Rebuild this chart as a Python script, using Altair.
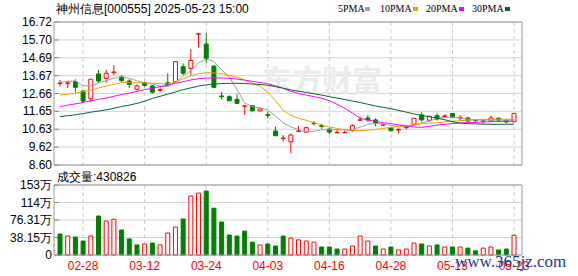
import altair as alt
import pandas as pd

# ---------------- data ----------------
dates = ["02-25", "02-26", "02-27", "02-28", "03-03", "03-04", "03-05", "03-06", "03-07", "03-10",
         "03-11", "03-12", "03-13", "03-14", "03-17", "03-18", "03-19", "03-20", "03-21", "03-24",
         "03-25", "03-26", "03-27", "03-28", "03-31", "04-01", "04-02", "04-03", "04-07", "04-08",
         "04-09", "04-10", "04-11", "04-14", "04-15", "04-16", "04-17", "04-18", "04-21", "04-22",
         "04-23", "04-24", "04-25", "04-28", "04-29", "04-30", "05-06", "05-07", "05-08", "05-09",
         "05-12", "05-13", "05-14", "05-15", "05-16", "05-19", "05-20", "05-21", "05-22", "05-23"]

opens = [13.22, 13.22, 13.33, 12.80, 12.35, 13.77, 13.52, 13.84, 13.58, 13.37,
         12.90, 13.27, 13.09, 12.84, 13.27, 13.33, 14.18, 14.09, 16.02, 15.47,
         14.22, 12.52, 12.48, 12.33, 11.93, 11.97, 11.67, 11.46, 10.53, 10.10,
         9.92, 10.51, 10.46, 10.98, 10.83, 10.64, 10.43, 10.43, 10.55, 11.14,
         11.27, 11.16, 10.86, 10.72, 10.59, 10.72, 10.91, 11.44, 11.14, 11.40,
         11.36, 11.52, 11.27, 11.27, 11.14, 11.10, 11.10, 11.26, 11.15, 11.06]
highs = [13.43, 13.39, 13.47, 12.86, 13.47, 14.00, 14.00, 14.28, 13.71, 13.47,
         13.18, 13.33, 13.14, 13.01, 13.81, 14.47, 14.37, 15.17, 16.05, 16.11,
         14.22, 12.76, 12.57, 12.63, 11.96, 12.00, 11.88, 11.63, 10.77, 10.30,
         10.40, 10.81, 10.77, 11.10, 10.93, 10.72, 10.63, 10.60, 10.91, 11.35,
         11.44, 11.25, 10.95, 10.77, 10.68, 10.80, 11.25, 11.59, 11.38, 11.54,
         11.48, 11.54, 11.44, 11.33, 11.18, 11.20, 11.40, 11.30, 11.20, 11.55]
lows = [13.05, 12.96, 12.73, 12.14, 12.16, 13.27, 13.27, 13.71, 13.27, 12.96,
        12.82, 13.05, 12.67, 12.73, 13.07, 13.30, 13.71, 13.71, 15.28, 14.37,
        12.95, 12.33, 12.23, 12.06, 11.44, 11.63, 11.67, 11.25, 10.25, 9.92,
        9.26, 10.50, 10.46, 10.83, 10.66, 10.36, 10.43, 10.43, 10.50, 11.12,
        11.06, 10.81, 10.80, 10.50, 10.40, 10.62, 10.91, 11.06, 11.06, 11.12,
        11.27, 11.27, 11.10, 10.97, 10.98, 10.94, 11.06, 11.08, 10.96, 11.06]
closes = [13.26, 13.26, 13.01, 12.23, 13.47, 13.37, 13.81, 13.88, 13.39, 13.18,
          13.09, 13.12, 12.73, 12.88, 13.14, 14.47, 13.81, 14.54, 16.05, 14.66,
          13.01, 12.48, 12.25, 12.10, 11.96, 11.68, 11.78, 11.42, 10.26, 10.13,
          10.30, 10.53, 10.72, 10.95, 10.79, 10.47, 10.45, 10.45, 10.83, 11.16,
          11.16, 10.97, 10.88, 10.55, 10.62, 10.75, 11.25, 11.16, 11.37, 11.21,
          11.39, 11.29, 11.30, 11.10, 11.12, 11.12, 11.27, 11.15, 11.04, 11.53]

# volume in 万 shares
volumes = [45.8, 41.4, 39.2, 30.5, 41.4, 85.0, 74.0, 78.0, 54.5, 35.0,
           22.0, 24.0, 26.0, 22.0, 48.0, 61.0, 78.5, 128.6, 135.0, 139.5,
           102.0, 72.0, 43.6, 41.4, 52.0, 28.0, 22.0, 24.0, 19.6, 41.4,
           37.0, 33.0, 30.5, 28.0, 17.5, 17.5, 13.0, 13.0, 19.6, 41.4,
           30.5, 19.6, 13.0, 17.5, 11.0, 13.0, 26.0, 24.0, 19.6, 22.0,
           17.5, 17.5, 17.5, 15.0, 9.0, 15.0, 17.5, 11.0, 13.0, 43.08]
vol_up = [0, 1, 0, 0, 1, 0, 1, 1, 0, 0,
          0, 1, 0, 1, 1, 1, 0, 1, 1, 0,
          0, 0, 0, 0, 0, 0, 1, 0, 0, 0,
          1, 1, 1, 1, 0, 0, 0, 1, 1, 1,
          1, 0, 1, 0, 1, 1, 1, 0, 1, 0,
          1, 0, 1, 0, 0, 1, 1, 0, 0, 1]

ma5 = [13.30, 13.34, 13.38, 13.10, 13.10, 13.25, 13.40, 13.52, 13.64, 13.52,
       13.38, 13.28, 13.20, 13.08, 13.05, 13.30, 13.65, 13.95, 14.40, 14.62,
       14.47, 14.00, 13.60, 12.88, 12.12, 11.92, 11.84, 11.72, 11.38, 11.00,
       10.77, 10.60, 10.47, 10.52, 10.60, 10.64, 10.60, 10.58, 10.62, 10.75,
       10.90, 10.96, 10.93, 10.85, 10.80, 10.78, 10.85, 11.00, 11.10, 11.24,
       11.30, 11.32, 11.28, 11.20, 11.16, 11.15, 11.15, 11.16, 11.14, 11.16]
ma10 = [12.57, 12.62, 12.68, 12.76, 12.85, 12.98, 13.08, 13.18, 13.28, 13.28,
        13.27, 13.26, 13.24, 13.22, 13.20, 13.30, 13.50, 13.66, 13.78, 13.84,
        13.83, 13.78, 13.70, 13.58, 13.42, 13.25, 13.08, 12.75, 12.25, 11.70,
        11.42, 11.25, 11.14, 11.00, 10.88, 10.76, 10.68, 10.60, 10.57, 10.56,
        10.58, 10.62, 10.68, 10.74, 10.80, 10.84, 10.88, 10.94, 10.97, 11.00,
        11.05, 11.08, 11.12, 11.14, 11.18, 11.19, 11.20, 11.20, 11.20, 11.20]
ma20 = [11.91, 12.00, 12.07, 12.15, 12.25, 12.33, 12.40, 12.50, 12.60, 12.68,
        12.78, 12.88, 12.96, 13.05, 13.15, 13.24, 13.33, 13.43, 13.50, 13.54,
        13.54, 13.54, 13.52, 13.48, 13.42, 13.35, 13.28, 13.22, 13.10, 12.96,
        12.78, 12.65, 12.57, 12.48, 12.39, 12.25, 12.05, 11.82, 11.55, 11.25,
        11.15, 11.08, 11.00, 10.95, 10.88, 10.82, 10.76, 10.74, 10.80, 10.86,
        10.91, 10.95, 10.98, 11.00, 11.02, 11.04, 11.06, 11.07, 11.08, 11.09]
ma30 = [11.35, 11.40, 11.45, 11.52, 11.60, 11.66, 11.73, 11.82, 11.92, 12.00,
        12.10, 12.22, 12.38, 12.50, 12.62, 12.75, 12.88, 12.98, 13.08, 13.15,
        13.20, 13.22, 13.24, 13.24, 13.22, 13.20, 13.17, 13.13, 13.05, 12.96,
        12.86, 12.79, 12.72, 12.64, 12.57, 12.48, 12.40, 12.32, 12.23, 12.15,
        12.05, 11.95, 11.87, 11.80, 11.70, 11.60, 11.50, 11.42, 11.34, 11.26,
        11.17, 11.06, 10.98, 10.95, 10.93, 10.92, 10.91, 10.91, 10.91, 10.92]

price_ticks = [8.60, 9.62, 10.63, 11.65, 12.66, 13.67, 14.69, 15.70, 16.72]
vol_ticks = [0, 38.155, 76.31, 114.465, 152.62]
vol_tick_labels = ["0", "38.15万", "76.31万", "114万", "153万"]
date_ticks = ["02-28", "03-12", "03-24", "04-03", "04-16", "04-28", "05-13", "05-23"]
ma_names = ["5PMA", "10PMA", "20PMA", "30PMA"]
ma_colors = ["#a0a0a0", "#f0a000", "#ff00ff", "#006633"]
title_text = "神州信息[000555] 2025-05-23 15:00"
vol_title = "成交量:430826"
watermark = "东方财富"
site_mark = "www.365jz.com"

# ---------------- layout ----------------
W, H = 468, 233
PH = 143            # price panel bottom
VT, VB = 163, 233   # volume panel top / bottom
RED, GREEN = "#ff0000", "#008000"
FONT = "Liberation Sans"
GRID = "#d4d4d4"

df = pd.DataFrame({"date": dates, "open": opens, "high": highs, "low": lows,
                   "close": closes, "vol": volumes})
df["dir"] = ["up" if c >= o else "down" for o, c in zip(opens, closes)]
df["vdir"] = ["up" if u else "down" for u in vol_up]

ma_df = pd.concat([
    pd.DataFrame({"date": dates, "value": vals, "series": name})
    for name, vals in zip(ma_names, [ma5, ma10, ma20, ma30])
])

one = pd.DataFrame({"a": [0]})
ptick_df = pd.DataFrame({"v": price_ticks, "label": [f"{v:.2f}" for v in price_ticks]})
vtick_df = pd.DataFrame({"v": vol_ticks, "label": vol_tick_labels})
dtick_df = pd.DataFrame({"date": date_ticks})

xscale = alt.Scale(type="point", domain=dates, padding=0.91, align=0.43)
pscale = alt.Scale(domain=[price_ticks[0], price_ticks[-1]], range=[PH, 0], zero=False, nice=False)
vscale = alt.Scale(domain=[vol_ticks[0], vol_ticks[-1]], range=[VB, VT], zero=False, nice=False)
stroke_scale = alt.Scale(domain=["up", "down"], range=[RED, GREEN])
fill_scale = alt.Scale(domain=["up", "down"], range=["#ffffff", GREEN])

Xn = alt.X("date:O", scale=xscale, axis=None)

# ---------- price panel ----------
p_grid = alt.Chart(ptick_df).mark_rule(color=GRID).encode(
    y=alt.Y("v:Q", scale=pscale, axis=None), x=alt.value(0), x2=alt.value(W))
p_ticks = alt.Chart(ptick_df).mark_rule(color="#888888").encode(
    y=alt.Y("v:Q", scale=pscale, axis=None), x=alt.value(0), x2=alt.value(5))
p_labels = alt.Chart(ptick_df).mark_text(align="right", baseline="middle", fontSize=12,
                                         font=FONT, color="#000000").encode(
    y=alt.Y("v:Q", scale=pscale, axis=None), x=alt.value(-2), text="label:N")
p_vgrid = alt.Chart(dtick_df).mark_rule(color="#c8c8c8", strokeDash=[4, 3]).encode(
    x=Xn, y=alt.value(0), y2=alt.value(PH))
p_water = alt.Chart(one).mark_text(text=watermark, fontSize=30, fontWeight="bold",
                                   font="Noto Sans CJK SC", color="#ebebeb").encode(
    x=alt.value(268), y=alt.value(60))
wicks = alt.Chart(df).mark_rule(strokeWidth=1).encode(
    x=Xn, y=alt.Y("low:Q", scale=pscale, axis=None), y2="high:Q",
    stroke=alt.Stroke("dir:N", scale=stroke_scale, legend=None))
bodies = alt.Chart(df).mark_bar(size=4, strokeWidth=1).encode(
    x=Xn, y=alt.Y("open:Q", scale=pscale, axis=None), y2="close:Q",
    fill=alt.Fill("dir:N", scale=fill_scale, legend=None),
    stroke=alt.Stroke("dir:N", scale=stroke_scale, legend=None))
ma_lines = alt.Chart(ma_df).mark_line(strokeWidth=1).encode(
    x=Xn, y=alt.Y("value:Q", scale=pscale, axis=None),
    color=alt.Color("series:N", scale=alt.Scale(domain=ma_names, range=ma_colors), legend=None),
    detail="series:N")
p_frame = alt.Chart(one).mark_rect(fillOpacity=0, stroke="#999999", strokeWidth=1).encode(
    x=alt.value(0), x2=alt.value(W), y=alt.value(0), y2=alt.value(PH))
title = alt.Chart(one).mark_text(text=title_text, fontSize=12, font=FONT, align="left",
                                 baseline="middle", color="#000000").encode(
    x=alt.value(2), y=alt.value(-13))

legend_x = [284, 326, 372, 418]
swatch_x = [311, 359, 405, 451]
legend_layers = []
for name, col, lx, sx in zip(ma_names, ma_colors, legend_x, swatch_x):
    legend_layers.append(
        alt.Chart(one).mark_text(text=name, fontSize=10, font="Liberation Serif", align="left",
                                 baseline="middle", color="#000000").encode(
            x=alt.value(lx), y=alt.value(-13)))
    legend_layers.append(
        alt.Chart(one).mark_rect(color=col).encode(
            x=alt.value(sx), x2=alt.value(sx + 5), y=alt.value(-15), y2=alt.value(-11)))

price = alt.layer(p_grid, p_vgrid, p_water, p_ticks, p_labels, wicks, bodies, ma_lines,
                  p_frame, title, *legend_layers)

# ---------- volume panel ----------
v_grid = alt.Chart(vtick_df).mark_rule(color=GRID).encode(
    y=alt.Y("v:Q", scale=vscale, axis=None), x=alt.value(0), x2=alt.value(W))
v_ticks = alt.Chart(vtick_df).mark_rule(color="#888888").encode(
    y=alt.Y("v:Q", scale=vscale, axis=None), x=alt.value(0), x2=alt.value(5))
v_labels = alt.Chart(vtick_df).mark_text(align="right", baseline="middle", fontSize=12,
                                         font=FONT, color="#000000").encode(
    y=alt.Y("v:Q", scale=vscale, axis=None), x=alt.value(-2), text="label:N")
v_vgrid = alt.Chart(dtick_df).mark_rule(color="#c8c8c8", strokeDash=[4, 3]).encode(
    x=Xn, y=alt.value(VT), y2=alt.value(VB))
v_bars = alt.Chart(df).mark_bar(size=4, strokeWidth=1).encode(
    x=Xn,
    y=alt.Y("vol:Q", scale=vscale, axis=None),
    fill=alt.Fill("vdir:N", scale=fill_scale, legend=None),
    stroke=alt.Stroke("vdir:N", scale=stroke_scale, legend=None))
x_labels = alt.Chart(dtick_df).mark_text(baseline="middle", fontSize=12, font=FONT,
                                         color=RED).encode(
    x=Xn, y=alt.value(VB + 11), text="date:N")
v_frame = alt.Chart(one).mark_rect(fillOpacity=0, stroke="#999999", strokeWidth=1).encode(
    x=alt.value(0), x2=alt.value(W), y=alt.value(VT), y2=alt.value(VB))
v_title = alt.Chart(one).mark_text(text=vol_title, fontSize=12, font=FONT, align="left",
                                   baseline="middle", color="#000000").encode(
    x=alt.value(3), y=alt.value(VT - 8))
site = alt.Chart(one).mark_text(text=site_mark, fontSize=17, font="Liberation Serif",
                                align="left", baseline="alphabetic", color="#1c3a8c").encode(
    x=alt.value(401), y=alt.value(245))

volume = alt.layer(v_grid, v_vgrid, v_ticks, v_labels, v_bars, x_labels, v_frame, v_title, site)

chart = alt.layer(price, volume).resolve_scale(y="independent").properties(
    width=W, height=H, autosize="none",
    padding={"left": 54, "top": 22, "right": 56, "bottom": 21},
    background="#ffffff",
).configure_view(stroke=None)

chart.save("out.html", embed_options={"renderer": "svg", "actions": False})
